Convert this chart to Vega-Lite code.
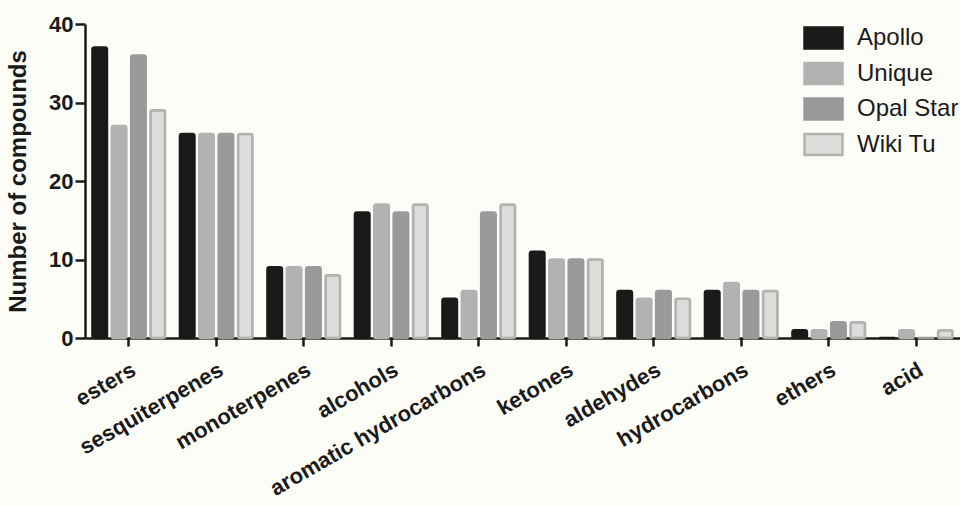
{
  "$schema": "https://vega.github.io/schema/vega-lite/v6.json",
  "width": 875,
  "height": 314,
  "autosize": {"type": "none"},
  "padding": {"left": 85, "top": 24, "right": 0, "bottom": 167},
  "background": "#fdfdf8",
  "config": {
    "view": {"stroke": null},
    "font": "Liberation Sans"
  },
  "data": {
    "values": [
      {"category": "esters", "cultivar": "Apollo", "count": 37},
      {"category": "esters", "cultivar": "Unique", "count": 27},
      {"category": "esters", "cultivar": "Opal Star", "count": 36},
      {"category": "esters", "cultivar": "Wiki Tu", "count": 29},
      {"category": "sesquiterpenes", "cultivar": "Apollo", "count": 26},
      {"category": "sesquiterpenes", "cultivar": "Unique", "count": 26},
      {"category": "sesquiterpenes", "cultivar": "Opal Star", "count": 26},
      {"category": "sesquiterpenes", "cultivar": "Wiki Tu", "count": 26},
      {"category": "monoterpenes", "cultivar": "Apollo", "count": 9},
      {"category": "monoterpenes", "cultivar": "Unique", "count": 9},
      {"category": "monoterpenes", "cultivar": "Opal Star", "count": 9},
      {"category": "monoterpenes", "cultivar": "Wiki Tu", "count": 8},
      {"category": "alcohols", "cultivar": "Apollo", "count": 16},
      {"category": "alcohols", "cultivar": "Unique", "count": 17},
      {"category": "alcohols", "cultivar": "Opal Star", "count": 16},
      {"category": "alcohols", "cultivar": "Wiki Tu", "count": 17},
      {"category": "aromatic hydrocarbons", "cultivar": "Apollo", "count": 5},
      {"category": "aromatic hydrocarbons", "cultivar": "Unique", "count": 6},
      {"category": "aromatic hydrocarbons", "cultivar": "Opal Star", "count": 16},
      {"category": "aromatic hydrocarbons", "cultivar": "Wiki Tu", "count": 17},
      {"category": "ketones", "cultivar": "Apollo", "count": 11},
      {"category": "ketones", "cultivar": "Unique", "count": 10},
      {"category": "ketones", "cultivar": "Opal Star", "count": 10},
      {"category": "ketones", "cultivar": "Wiki Tu", "count": 10},
      {"category": "aldehydes", "cultivar": "Apollo", "count": 6},
      {"category": "aldehydes", "cultivar": "Unique", "count": 5},
      {"category": "aldehydes", "cultivar": "Opal Star", "count": 6},
      {"category": "aldehydes", "cultivar": "Wiki Tu", "count": 5},
      {"category": "hydrocarbons", "cultivar": "Apollo", "count": 6},
      {"category": "hydrocarbons", "cultivar": "Unique", "count": 7},
      {"category": "hydrocarbons", "cultivar": "Opal Star", "count": 6},
      {"category": "hydrocarbons", "cultivar": "Wiki Tu", "count": 6},
      {"category": "ethers", "cultivar": "Apollo", "count": 1},
      {"category": "ethers", "cultivar": "Unique", "count": 1},
      {"category": "ethers", "cultivar": "Opal Star", "count": 2},
      {"category": "ethers", "cultivar": "Wiki Tu", "count": 2},
      {"category": "acid", "cultivar": "Apollo", "count": 0},
      {"category": "acid", "cultivar": "Unique", "count": 1},
      {"category": "acid", "cultivar": "Opal Star", "count": 0},
      {"category": "acid", "cultivar": "Wiki Tu", "count": 1}
    ]
  },
  "mark": {"type": "bar", "strokeWidth": 2.5, "cornerRadius": 2, "strokeJoin": "round"},
  "encoding": {
    "x": {
      "field": "category",
      "type": "nominal",
      "sort": null,
      "scale": {"paddingInner": 0.17, "paddingOuter": 0.085},
      "axis": {
        "title": null,
        "domainColor": "#1a1a1a",
        "domainWidth": 2.5,
        "tickColor": "#1a1a1a",
        "tickWidth": 2.5,
        "tickSize": 8,
        "labelAngle": -30,
        "labelAlign": "right",
        "labelBaseline": "top",
        "labelPadding": 13,
        "labelFontSize": 22,
        "labelFontWeight": "bold",
        "labelColor": "#1a1a1a",
        "labelOverlap": false,
        "labelLimit": 0,
        "labelFont": "Liberation Sans"
      }
    },
    "xOffset": {
      "field": "cultivar",
      "type": "nominal",
      "sort": ["Apollo", "Unique", "Opal Star", "Wiki Tu"],
      "scale": {"paddingInner": 0.25}
    },
    "y": {
      "field": "count",
      "type": "quantitative",
      "scale": {"domain": [0, 40], "nice": false},
      "axis": {
        "title": "Number of compounds",
        "titleFontSize": 24,
        "titleFontWeight": "bold",
        "titleColor": "#1a1a1a",
        "titlePadding": 18,
        "titleFont": "Liberation Sans",
        "values": [0, 10, 20, 30, 40],
        "grid": false,
        "domainColor": "#1a1a1a",
        "domainWidth": 2.5,
        "tickColor": "#1a1a1a",
        "tickWidth": 2.5,
        "tickSize": 10,
        "labelFontSize": 22,
        "labelFontWeight": "bold",
        "labelColor": "#1a1a1a",
        "labelPadding": 2,
        "labelFont": "Liberation Sans"
      }
    },
    "color": {
      "field": "cultivar",
      "type": "nominal",
      "sort": ["Apollo", "Unique", "Opal Star", "Wiki Tu"],
      "scale": {
        "domain": ["Apollo", "Unique", "Opal Star", "Wiki Tu"],
        "range": ["#1a1a1a", "#b2b2b2", "#999b9a", "#dcdcda"]
      },
      "legend": {
        "title": null,
        "orient": "none",
        "legendX": 726.5,
        "legendY": 2,
        "symbolType": "M-2,-1.1H2V1.1H-2Z",
        "symbolSize": 361,
        "symbolStrokeWidth": 2.5,
        "labelFontSize": 24,
        "labelColor": "#1a1a1a",
        "labelFont": "Liberation Sans",
        "labelOffset": 21.5,
        "rowPadding": 3.5,
        "symbolOpacity": 1
      }
    },
    "stroke": {
      "field": "cultivar",
      "type": "nominal",
      "sort": ["Apollo", "Unique", "Opal Star", "Wiki Tu"],
      "scale": {
        "domain": ["Apollo", "Unique", "Opal Star", "Wiki Tu"],
        "range": ["#1a1a1a", "#b2b2b2", "#999b9a", "#b2b2b2"]
      }
    },
    "strokeOpacity": {
      "condition": {"test": "datum.count === 0", "value": 0},
      "value": 1
    }
  }
}
